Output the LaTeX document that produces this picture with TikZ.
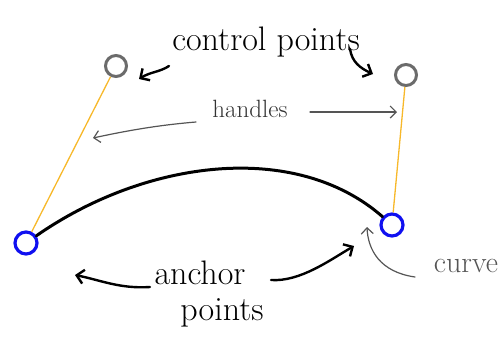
\documentclass[tikz,border=0pt]{standalone}
\usepackage{fontspec}
\usetikzlibrary{arrows.meta}
\definecolor{ctrlgray}{HTML}{6B6B6B}
\definecolor{anchorblue}{HTML}{1010F0}
\definecolor{handleyellow}{HTML}{F7B82A}
\definecolor{notegray}{HTML}{555555}
\tikzset{
  ctrlpt/.style={circle, draw=ctrlgray, line width=3pt, minimum size=21pt, inner sep=0pt, fill=white},
  anchorpt/.style={circle, draw=anchorblue, line width=3.2pt, minimum size=22pt, inner sep=0pt, fill=white},
  handleline/.style={draw=handleyellow, line width=1.3pt},
  curveline/.style={draw=black, line width=3pt, line cap=round},
  bigarrow/.style={draw=black, line width=2.4pt, line cap=round, -{Straight Barb[length=7pt,width=14pt,line width=2.4pt]}},
  thinarrow/.style={draw=notegray, line width=1.2pt, line cap=round, -{Straight Barb[length=6pt,width=12pt,line width=1.2pt]}},
  bigtext/.style={font=\fontsize{34}{36}\selectfont, inner sep=0pt, text=black},
  smalltext/.style={font=\fontsize{25}{27}\selectfont, inner sep=0pt, text=black!80},
  curvetext/.style={font=\fontsize{30}{32}\selectfont, inner sep=0pt, text=notegray},
}
\begin{document}
\begin{tikzpicture}[x=1pt,y=-1pt]
\useasboundingbox (0,0) rectangle (504,341);
% points
\node[ctrlpt] (cl) at (116,66) {};
\node[ctrlpt] (cr) at (406,75) {};
\node[anchorpt] (al) at (26,243) {};
\node[anchorpt] (ar) at (392,225) {};
% handles
\draw[handleline] (cl) -- (al);
\draw[handleline] (cr) -- (ar);
% curve
\draw[curveline] (al) .. controls (145,160) and (295,140) .. (ar);
% labels
\node[bigtext] (ctext) at (266,42) {control points};
\node[smalltext] (htext) at (250,109) {handles};
\node[bigtext, anchor=base] (atext) at (200,284) {anchor};
\node[bigtext, anchor=base] (ptext) at (222,320) {points};
\node[curvetext] (cvtext) at (466,266) {curve};
% arrow end coordinates
\coordinate (c1s) at (169,66);
\coordinate (c1e) at (139,79);
\coordinate (c2s) at (350,49);
\coordinate (c2e) at (373,74);
\coordinate (h1s) at (196,122);
\coordinate (h1e) at (93,138);
\coordinate (h2s) at (310,112);
\coordinate (h2e) at (397,112);
\coordinate (a1s) at (150,287);
\coordinate (a1e) at (75,275);
\coordinate (a2s) at (271,280);
\coordinate (a2e) at (354,246);
\coordinate (cvs) at (415,277);
\coordinate (cve) at (367,227);
% arrows
\draw[bigarrow] (c1s) .. controls (160,72) and (150,72) .. (c1e);
\draw[bigarrow] (c2s) .. controls (352,62) and (360,68) .. (c2e);
\draw[thinarrow] (h1s) .. controls (160,125) and (130,130) .. (h1e);
\draw[thinarrow] (h2s) -- (h2e);
\draw[bigarrow] (a1s) .. controls (120,289) and (100,280) .. (a1e);
\draw[bigarrow] (a2s) .. controls (300,282) and (330,260) .. (a2e);
\draw[thinarrow] (cvs) .. controls (380,272) and (368,250) .. (cve);
\end{tikzpicture}
\end{document}
